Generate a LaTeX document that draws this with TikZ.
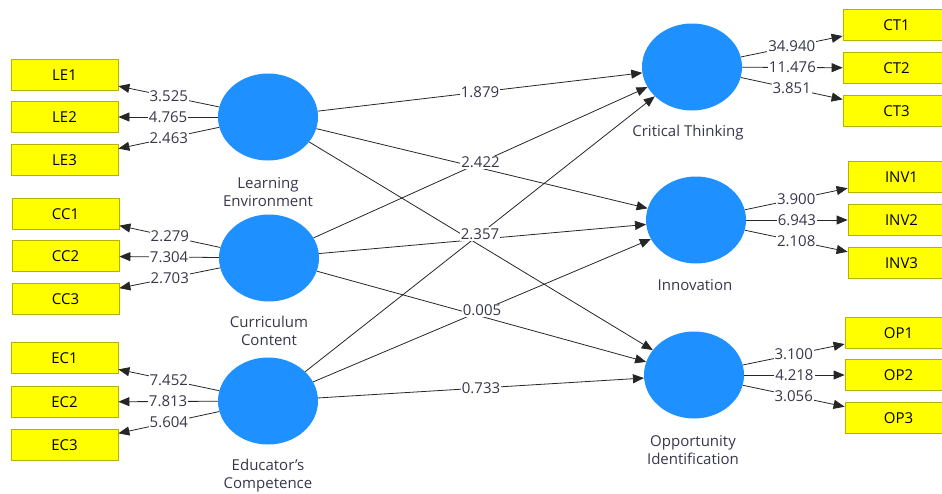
\documentclass[tikz,border=0pt]{standalone}
\usepackage{fontspec}
\setmainfont{Open Sans}
\usetikzlibrary{shapes.geometric,arrows.meta}
\definecolor{lvblue}{RGB}{30,144,255}
\definecolor{mvyellow}{RGB}{255,255,0}
\definecolor{mvedge}{RGB}{180,180,0}
\definecolor{txtgray}{RGB}{55,55,75}
\begin{document}
\begin{tikzpicture}[x=1pt,y=-1pt,
		lv/.style={ellipse,fill=lvblue,minimum width=100pt,minimum height=87pt,inner sep=0pt},
		mv/.style={rectangle,fill=mvyellow,draw=mvedge,line width=0.8pt,minimum width=107pt,minimum height=31pt,inner sep=0pt,font=\fontsize{15}{18}\selectfont},
		lvname/.style={align=center,text=txtgray,font=\fontsize{15}{18}\selectfont},
		val/.style={fill=white,inner sep=1pt,text=txtgray,font=\fontsize{15}{15}\selectfont},
		link/.style={draw=black!85,line width=0.8pt,-{Triangle[length=11pt,width=9pt]}}]
		\useasboundingbox (0,0) rectangle (942,493);
		%\draw[step=50,very thin,color=gray] (0,0) grid (942,493);
		% latent variables
		\node[lv] (LE) at (268,117) {};
		\node[lv] (CC) at (269,258) {};
		\node[lv] (EC) at (268,401) {};
		\node[lv] (CT) at (692,67) {};
		\node[lv] (INV) at (696,220) {};
		\node[lv] (OP) at (694,375) {};
		\node[lvname] (LEname) at (268,192) {Learning\\Environment};
		\node[lvname] (CCname) at (269,331) {Curriculum\\Content};
		\node[lvname] (ECname) at (268,476) {Educator's\\Competence};
		\node[lvname] (CTname) at (688,133) {Critical Thinking};
		\node[lvname] (INVname) at (695,285) {Innovation};
		\node[lvname] (OPname) at (693,450) {Opportunity\\Identification};
		% indicators
		\node[mv] (LE1) at (64.5,75) {LE1};
		\node[mv] (LE2) at (64.5,117) {LE2};
		\node[mv] (LE3) at (64.5,160) {LE3};
		\node[mv] (CC1) at (65.5,214) {CC1};
		\node[mv] (CC2) at (65.5,256) {CC2};
		\node[mv] (CC3) at (65.5,299) {CC3};
		\node[mv] (EC1) at (64.5,358) {EC1};
		\node[mv] (EC2) at (64.5,402) {EC2};
		\node[mv] (EC3) at (64.5,445) {EC3};
		\node[mv] (CT1) at (896.5,25) {CT1};
		\node[mv] (CT2) at (896.5,68) {CT2};
		\node[mv] (CT3) at (896.5,111) {CT3};
		\node[mv] (INV1) at (901.5,177) {INV1};
		\node[mv] (INV2) at (901.5,220) {INV2};
		\node[mv] (INV3) at (901.5,263) {INV3};
		\node[mv] (OP1) at (898.5,333) {OP1};
		\node[mv] (OP2) at (898.5,375) {OP2};
		\node[mv] (OP3) at (898.5,418) {OP3};
		% outer model
		\draw[link] (LE) -- (LE1) node[val,midway] {3.525};
		\draw[link] (LE) -- (LE2) node[val,midway] {4.765};
		\draw[link] (LE) -- (LE3) node[val,midway] {2.463};
		\draw[link] (CC) -- (CC1) node[val,midway] {2.279};
		\draw[link] (CC) -- (CC2) node[val,midway] {7.304};
		\draw[link] (CC) -- (CC3) node[val,midway] {2.703};
		\draw[link] (EC) -- (EC1) node[val,midway] {7.452};
		\draw[link] (EC) -- (EC2) node[val,midway] {7.813};
		\draw[link] (EC) -- (EC3) node[val,midway] {5.604};
		\draw[link] (CT) -- (CT1) node[val,midway] {34.940};
		\draw[link] (CT) -- (CT2) node[val,midway] {11.476};
		\draw[link] (CT) -- (CT3) node[val,midway] {3.851};
		\draw[link] (INV) -- (INV1) node[val,midway] {3.900};
		\draw[link] (INV) -- (INV2) node[val,midway] {6.943};
		\draw[link] (INV) -- (INV3) node[val,midway] {2.108};
		\draw[link] (OP) -- (OP1) node[val,midway] {3.100};
		\draw[link] (OP) -- (OP2) node[val,midway] {4.218};
		\draw[link] (OP) -- (OP3) node[val,midway] {3.056};
		% inner model
		\draw[link] (LE) -- (CT);
		\draw[link] (LE) -- (INV);
		\draw[link] (LE) -- (OP);
		\draw[link] (CC) -- (CT);
		\draw[link] (CC) -- (INV);
		\draw[link] (CC) -- (OP);
		\draw[link] (EC) -- (CT);
		\draw[link] (EC) -- (INV);
		\draw[link] (EC) -- (OP);
		\path (LE) -- (CT) node[val,midway] {1.879};
		\path (CC) -- (CT) node[val,midway] {2.422};
		\path (EC) -- (CT) node[val,midway] {2.357};
		\path (EC) -- (INV) node[val,midway] {0.005};
		\path (EC) -- (OP) node[val,midway] {0.733};
\end{tikzpicture}
\end{document}
